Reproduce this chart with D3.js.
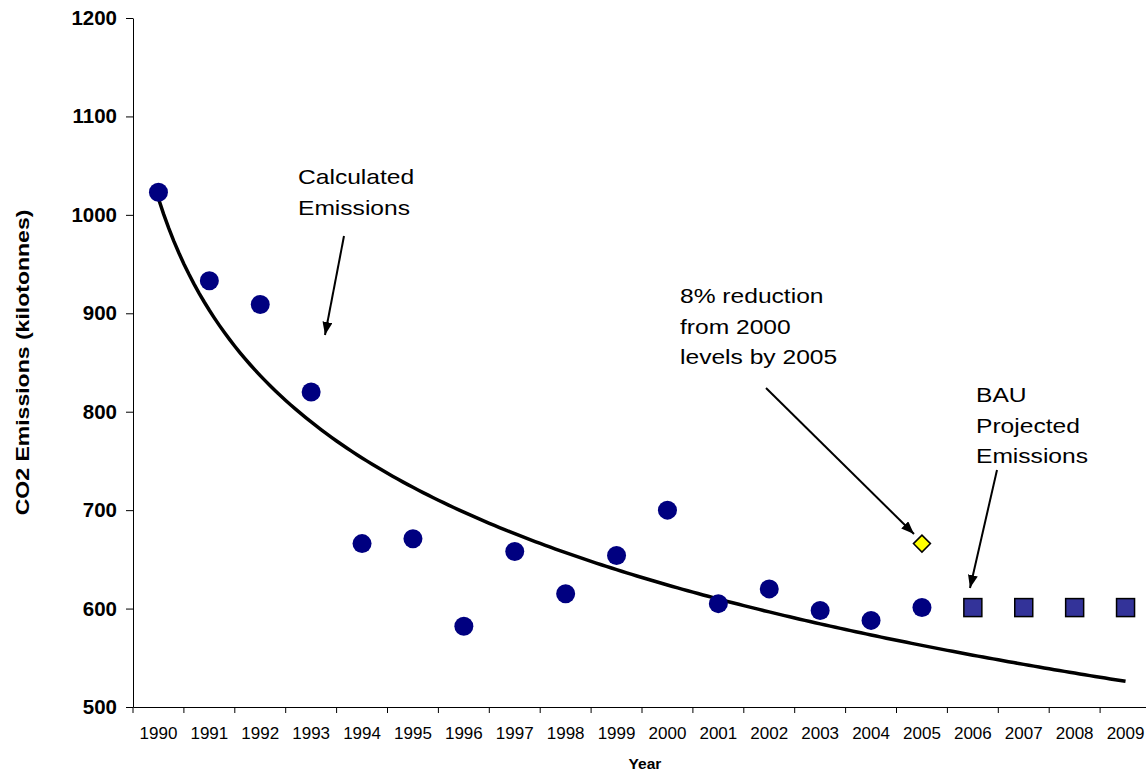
<!DOCTYPE html>
<html>
<head>
<meta charset="utf-8">
<script src="https://cdn.jsdelivr.net/npm/d3@7"></script>
<style>
  body { margin: 0; background: #fff; }
  svg { display: block; font-family: "Liberation Sans", Arial, sans-serif; }
</style>
</head>
<body>
<div id="app"></div>
<script>
const years = ['1990', '1991', '1992', '1993', '1994', '1995', '1996', '1997', '1998', '1999',
               '2000', '2001', '2002', '2003', '2004', '2005', '2006', '2007', '2008', '2009'];

// calculated emissions 1990-2005
const calcYears = years.slice(0, 16);
const calcValues = [1023, 933, 909, 820, 666, 671, 582, 658, 615, 654, 700, 605, 620, 598, 588, 601];

// 8% reduction target
const targetYears = ['2005'];
const targetValues = [666];

// business as usual projection
const bauYears = ['2006', '2007', '2008', '2009'];
const bauValues = [601, 601, 601, 601];

const yTicks = [500, 600, 700, 800, 900, 1000, 1100, 1200];

const conf = {
  width: 1146,
  height: 775,
  margin: { top: 18, right: -5, bottom: 68, left: 133 }
};

const svg = d3.select('#app').append('svg')
  .attr('width', conf.width)
  .attr('height', conf.height);

const x = d3.scaleBand()
  .domain(years)
  .range([conf.margin.left, conf.width - conf.margin.right]);

const y = d3.scaleLinear()
  .domain([500, 1200])
  .range([conf.height - conf.margin.bottom, conf.margin.top]);

const cx = d => x(d) + x.bandwidth() / 2;
const y0 = conf.height - conf.margin.bottom;

// y axis
const yAxis = svg.append('g')
  .attr('transform', `translate(${conf.margin.left},0)`)
  .call(d3.axisLeft(y).tickValues(yTicks).tickFormat(d3.format('d'))
    .tickSize(7).tickPadding(9).tickSizeOuter(0));
yAxis.selectAll('text')
  .style('font-size', '20.5px')
  .style('font-weight', 'bold')
  .style('font-family', '"Liberation Sans", Arial, sans-serif')
  .attr('fill', '#000');
yAxis.select('.domain').attr('stroke', '#000');

// x axis: labels centred in the band, ticks on the band edges
const xAxis = svg.append('g')
  .attr('transform', `translate(0,${y0})`)
  .call(d3.axisBottom(x).tickSize(0).tickPadding(20).tickSizeOuter(0));
xAxis.selectAll('text')
  .style('font-size', '17px')
  .style('font-family', '"Liberation Sans", Arial, sans-serif')
  .attr('fill', '#000');
xAxis.select('.domain').attr('stroke', '#000');
xAxis.selectAll('.edge')
  .data(years)
  .enter()
  .append('line')
  .attr('x1', d => x(d)).attr('x2', d => x(d))
  .attr('y1', 0).attr('y2', 6)
  .attr('stroke', '#000');

// axis titles
svg.append('text')
  .attr('transform', `translate(29,${(y(500) + y(1200)) / 2}) rotate(-90) scale(1.28,1)`)
  .attr('text-anchor', 'middle')
  .style('font-size', '18px')
  .style('font-weight', 'bold')
  .text('CO2 Emissions (kilotonnes)');

svg.append('text')
  .attr('x', 645)
  .attr('y', 769)
  .attr('text-anchor', 'middle')
  .style('font-size', '15.5px')
  .style('font-weight', 'bold')
  .text('Year');

// logarithmic trendline fitted to the calculated emissions (like excel)
const lnX = calcValues.map((v, i) => Math.log(i + 1));
const mx = d3.mean(lnX);
const my = d3.mean(calcValues);
const b = d3.sum(lnX, (l, i) => (l - mx) * (calcValues[i] - my)) / d3.sum(lnX, l => (l - mx) ** 2);
const a = my - b * mx;

const xi = d3.scaleLinear()
  .domain([1, years.length])
  .range([cx(years[0]), cx(years[years.length - 1])]);

const trend = d3.range(1, years.length + 0.001, 0.1).map(t => [xi(t), y(a + b * Math.log(t))]);

svg.append('path')
  .datum(trend)
  .attr('d', d3.line())
  .attr('fill', 'none')
  .attr('stroke', '#000')
  .attr('stroke-width', 3.5);

// calculated points
svg.append('g')
  .selectAll('circle')
  .data(calcYears)
  .enter()
  .append('circle')
  .attr('cx', d => cx(d))
  .attr('cy', (d, i) => y(calcValues[i]))
  .attr('r', 9.5)
  .attr('fill', '#000080');

// target diamond
svg.append('g')
  .selectAll('path')
  .data(targetYears)
  .enter()
  .append('path')
  .attr('transform', (d, i) => `translate(${cx(d)},${y(targetValues[i])})`)
  .attr('d', 'M0,-8.5L8.5,0L0,8.5L-8.5,0Z')
  .attr('fill', '#ffff00')
  .attr('stroke', '#000')
  .attr('stroke-width', 1.5);

// BAU squares
svg.append('g')
  .selectAll('rect')
  .data(bauYears)
  .enter()
  .append('rect')
  .attr('x', d => cx(d) - 9)
  .attr('y', (d, i) => y(bauValues[i]) - 9)
  .attr('width', 18)
  .attr('height', 18)
  .attr('fill', '#333399')
  .attr('stroke', '#000')
  .attr('stroke-width', 1.5);

// annotations
svg.append('defs').append('marker')
  .attr('id', 'arrow')
  .attr('markerUnits', 'userSpaceOnUse')
  .attr('markerWidth', 13)
  .attr('markerHeight', 10)
  .attr('refX', 13)
  .attr('refY', 5)
  .attr('orient', 'auto')
  .append('path')
  .attr('d', 'M0,0L13,5L0,10Z')
  .attr('fill', '#000');

const notes = [
  { lines: ['Calculated', 'Emissions'], x: 298, y: 184, from: [344, 236], to: [325, 335] },
  { lines: ['8% reduction', 'from 2000', 'levels by 2005'], x: 680, y: 303, from: [766, 388], to: [914, 534] },
  { lines: ['BAU', 'Projected', 'Emissions'], x: 976, y: 402, from: [997, 470], to: [970, 588] }
];

notes.forEach(n => {
  n.lines.forEach((l, i) => {
    svg.append('text')
      .attr('transform', `translate(${n.x},${n.y + i * 30.5}) scale(1.2,1)`)
      .style('font-size', '20.5px')
      .text(l);
  });
  svg.append('line')
    .attr('x1', n.from[0]).attr('y1', n.from[1])
    .attr('x2', n.to[0]).attr('y2', n.to[1])
    .attr('stroke', '#000')
    .attr('stroke-width', 2)
    .attr('marker-end', 'url(#arrow)');
});
</script>
</body>
</html>
